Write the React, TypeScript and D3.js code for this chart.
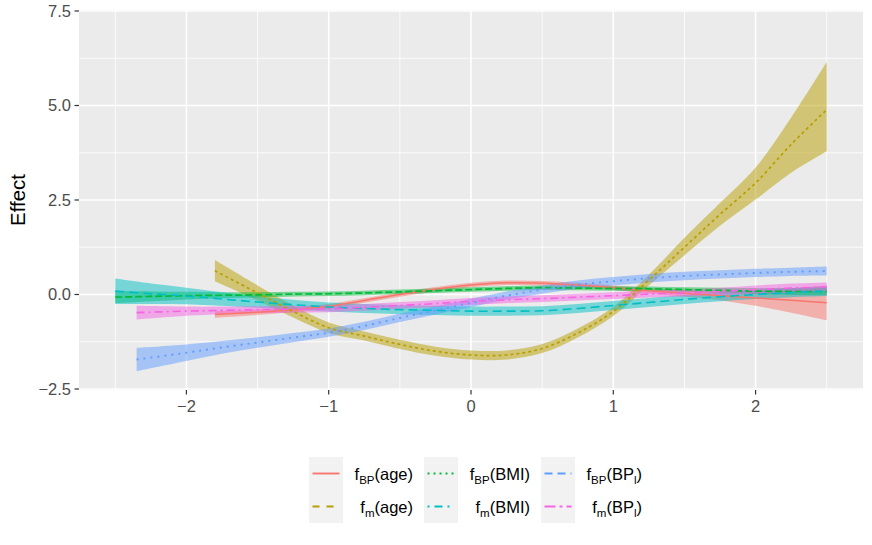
import * as d3 from "d3";

// x positions (standardised covariate) per covariate
const xAge = [-1.8, -1.5, -1.25, -1, -0.75, -0.5, -0.25, 0, 0.25, 0.5, 0.75, 1, 1.25, 1.5, 1.75, 2, 2.25, 2.5];
const xBMI = [-2.5, -2.25, -2, -1.75, -1.5, -1.25, -1, -0.75, -0.5, -0.25, 0, 0.25, 0.5, 0.75, 1, 1.25, 1.5, 1.75, 2, 2.25, 2.5];
const xBPl = [-2.35, -2, -1.75, -1.5, -1.25, -1, -0.75, -0.5, -0.25, 0, 0.25, 0.5, 0.75, 1, 1.25, 1.5, 1.75, 2, 2.25, 2.5];

// fBP(age)
const bpAgeFit = [-0.53, -0.47, -0.4, -0.31, -0.16, 0.0, 0.14, 0.25, 0.31, 0.3, 0.25, 0.18, 0.1, 0.03, -0.03, -0.09, -0.15, -0.22];
const bpAgeLo = [-0.62, -0.54, -0.46, -0.37, -0.22, -0.06, 0.08, 0.19, 0.25, 0.24, 0.19, 0.12, 0.03, -0.06, -0.15, -0.3, -0.48, -0.68];
const bpAgeHi = [-0.44, -0.4, -0.34, -0.25, -0.1, 0.06, 0.2, 0.31, 0.37, 0.36, 0.31, 0.24, 0.17, 0.12, 0.1, 0.1, 0.17, 0.24];

// fm(age)
const mAgeFit = [0.63, 0.04, -0.45, -0.88, -1.1, -1.32, -1.5, -1.6, -1.6, -1.43, -1.02, -0.45, 0.38, 1.25, 2.12, 2.95, 3.97, 4.89];
const mAgeLo = [0.35, -0.16, -0.61, -1.02, -1.22, -1.44, -1.62, -1.72, -1.72, -1.55, -1.14, -0.57, 0.24, 1.04, 1.82, 2.51, 3.22, 3.79];
const mAgeHi = [0.91, 0.24, -0.29, -0.74, -0.98, -1.2, -1.38, -1.48, -1.48, -1.31, -0.9, -0.33, 0.52, 1.5, 2.42, 3.36, 4.68, 6.15];

// fBP(BMI)
const bpBmiFit = [-0.07, -0.05, -0.03, -0.02, -0.01, 0.01, 0.02, 0.04, 0.07, 0.1, 0.13, 0.16, 0.18, 0.17, 0.16, 0.15, 0.13, 0.11, 0.09, 0.08, 0.08];
const bpBmiLo = [-0.23, -0.18, -0.13, -0.1, -0.08, -0.05, -0.04, -0.02, 0.01, 0.04, 0.07, 0.1, 0.12, 0.11, 0.1, 0.09, 0.07, 0.04, 0.01, -0.01, -0.02];
const bpBmiHi = [0.09, 0.08, 0.07, 0.06, 0.06, 0.07, 0.08, 0.1, 0.13, 0.16, 0.19, 0.22, 0.24, 0.23, 0.22, 0.21, 0.19, 0.18, 0.17, 0.17, 0.18];

// fm(BMI)
const mBmiFit = [0.09, 0.02, -0.04, -0.12, -0.2, -0.27, -0.33, -0.37, -0.4, -0.42, -0.44, -0.44, -0.43, -0.37, -0.29, -0.21, -0.13, -0.06, 0.0, 0.05, 0.09];
const mBmiLo = [-0.25, -0.25, -0.26, -0.3, -0.35, -0.4, -0.45, -0.49, -0.52, -0.54, -0.56, -0.56, -0.55, -0.49, -0.41, -0.33, -0.25, -0.18, -0.12, -0.07, -0.04];
const mBmiHi = [0.42, 0.29, 0.18, 0.06, -0.05, -0.14, -0.21, -0.25, -0.28, -0.3, -0.32, -0.32, -0.31, -0.25, -0.17, -0.09, -0.01, 0.06, 0.12, 0.17, 0.22];

// fBP(BPl)
const bpBplFit = [-1.72, -1.54, -1.4, -1.27, -1.14, -1.01, -0.83, -0.62, -0.42, -0.22, -0.03, 0.13, 0.26, 0.35, 0.43, 0.49, 0.53, 0.57, 0.6, 0.62];
const bpBplLo = [-2.03, -1.76, -1.57, -1.41, -1.26, -1.12, -0.94, -0.73, -0.53, -0.33, -0.14, 0.02, 0.15, 0.24, 0.32, 0.38, 0.42, 0.46, 0.49, 0.5];
const bpBplHi = [-1.41, -1.32, -1.23, -1.13, -1.02, -0.9, -0.72, -0.51, -0.31, -0.11, 0.08, 0.24, 0.37, 0.46, 0.54, 0.6, 0.64, 0.68, 0.71, 0.74];

// fm(BPl)
const mBplFit = [-0.48, -0.44, -0.42, -0.4, -0.39, -0.38, -0.34, -0.29, -0.24, -0.18, -0.14, -0.11, -0.07, -0.03, 0.01, 0.04, 0.08, 0.13, 0.17, 0.2];
const mBplLo = [-0.66, -0.56, -0.52, -0.49, -0.48, -0.47, -0.43, -0.38, -0.33, -0.27, -0.23, -0.2, -0.16, -0.12, -0.08, -0.05, -0.02, 0.02, 0.05, 0.08];
const mBplHi = [-0.3, -0.32, -0.32, -0.31, -0.3, -0.29, -0.25, -0.2, -0.15, -0.09, -0.05, -0.02, 0.02, 0.06, 0.1, 0.13, 0.18, 0.24, 0.29, 0.32];

const yTicks = [-2.5, 0, 2.5, 5, 7.5];
const yMinor = [-1.25, 1.25, 3.75, 6.25];
const xTicks = [-2, -1, 0, 1, 2];
const xMinor = [-2.5, -1.5, -0.5, 0.5, 1.5, 2.5];

type Series = {
  sub: string; // subscript of f
  arg: string; // argument name
  argSub?: string;
  color: string;
  x: number[];
  fit: number[];
  lo: number[];
  hi: number[];
  dash: string; // dash used in the panel
  keyDash: string; // dash used in the legend key
  width: number;
};

const SERIES: Series[] = [
  { sub: "BP", arg: "age", color: "#F8766D", x: xAge, fit: bpAgeFit, lo: bpAgeLo, hi: bpAgeHi, dash: "none", keyDash: "none", width: 1.5 },
  { sub: "m", arg: "age", color: "#B79F00", x: xAge, fit: mAgeFit, lo: mAgeLo, hi: mAgeHi, dash: "3,3", keyDash: "7,7", width: 1.7 },
  { sub: "BP", arg: "BMI", color: "#00BA38", x: xBMI, fit: bpBmiFit, lo: bpBmiLo, hi: bpBmiHi, dash: "7,3", keyDash: "2,4", width: 1.7 },
  { sub: "m", arg: "BMI", color: "#00BFC4", x: xBMI, fit: mBmiFit, lo: mBmiLo, hi: mBmiHi, dash: "9,5", keyDash: "2,5,8,5", width: 1.6 },
  { sub: "BP", arg: "BP", argSub: "l", color: "#619CFF", x: xBPl, fit: bpBplFit, lo: bpBplLo, hi: bpBplHi, dash: "2,5", keyDash: "8,5", width: 1.9 },
  { sub: "m", arg: "BP", argSub: "l", color: "#F564E3", x: xBPl, fit: mBplFit, lo: mBplLo, hi: mBplHi, dash: "8,4,2,4", keyDash: "11,4,3,4", width: 1.6 },
];

const W = 872;
const H = 545;
const PANEL = { left: 79, right: 863, top: 10, bottom: 390 };
const FONT = "'Liberation Sans', Arial, Helvetica, sans-serif";

function Label({ s, x, y }: { s: Series; x: number; y: number }) {
  return (
    <text x={x} y={y} textAnchor="end" fontSize={16.5} fill="#000" fontFamily={FONT}>
      <tspan>f</tspan>
      <tspan fontSize={11.5} dy={4}>{s.sub}</tspan>
      <tspan dy={-4}>({s.arg}</tspan>
      {s.argSub ? (
        <>
          <tspan fontSize={11.5} dy={4}>{s.argSub}</tspan>
          <tspan dy={-4}>)</tspan>
        </>
      ) : (
        <tspan>)</tspan>
      )}
    </text>
  );
}

export default function App() {
  const xScale = d3.scaleLinear().domain([-2.755, 2.755]).range([PANEL.left, PANEL.right]);
  const yScale = d3.scaleLinear().domain([-2.5, 7.5]).range([389, 11]);
  const curve = d3.curveCatmullRom.alpha(0.5);

  const area = (s: Series) =>
    d3
      .area<number>()
      .x((_, i) => xScale(s.x[i]))
      .y0((_, i) => yScale(s.lo[i]))
      .y1((_, i) => yScale(s.hi[i]))
      .curve(curve)(s.fit) ?? "";

  const line = (s: Series) =>
    d3
      .line<number>()
      .x((_, i) => xScale(s.x[i]))
      .y((d) => yScale(d))
      .curve(curve)(s.fit) ?? "";

  // legend: 3 columns x 2 rows, filled by column
  const keyX = [309, 424, 541];
  const labelRight = [413, 530, 642];
  const rowTop = [457, 490];
  const keyW = 34;
  const keyH = 33;

  return (
    <svg width={W} height={H} style={{ position: "absolute", left: 0, top: 0, background: "#fff" }}>
      <rect x={0} y={0} width={W} height={H} fill="#fff" />
      <rect
        x={PANEL.left}
        y={PANEL.top}
        width={PANEL.right - PANEL.left}
        height={PANEL.bottom - PANEL.top}
        fill="#EBEBEB"
      />
      {/* minor grid */}
      {xMinor.map((v) => (
        <line key={`xm${v}`} x1={xScale(v)} x2={xScale(v)} y1={PANEL.top} y2={PANEL.bottom} stroke="#fff" strokeWidth={0.8} />
      ))}
      {yMinor.map((v) => (
        <line key={`ym${v}`} x1={PANEL.left} x2={PANEL.right} y1={yScale(v)} y2={yScale(v)} stroke="#fff" strokeWidth={0.8} />
      ))}
      {/* major grid */}
      {xTicks.map((v) => (
        <line key={`xg${v}`} x1={xScale(v)} x2={xScale(v)} y1={PANEL.top} y2={PANEL.bottom} stroke="#fff" strokeWidth={1.6} />
      ))}
      {yTicks.map((v) => (
        <line key={`yg${v}`} x1={PANEL.left} x2={PANEL.right} y1={yScale(v)} y2={yScale(v)} stroke="#fff" strokeWidth={1.6} />
      ))}

      {/* ribbons */}
      {SERIES.map((s, i) => (
        <path key={`r${i}`} d={area(s)} fill={s.color} fillOpacity={0.5} stroke="none" />
      ))}
      {/* fitted lines */}
      {SERIES.map((s, i) => (
        <path
          key={`l${i}`}
          d={line(s)}
          fill="none"
          stroke={s.color}
          strokeWidth={s.width}
          strokeDasharray={s.dash}
        />
      ))}

      {/* y axis */}
      {yTicks.map((v) => (
        <g key={`yt${v}`}>
          <line x1={PANEL.left - 4.5} x2={PANEL.left} y1={yScale(v)} y2={yScale(v)} stroke="#333" strokeWidth={1.2} />
          <text
            x={PANEL.left - 8}
            y={yScale(v)}
            dy="0.36em"
            textAnchor="end"
            fontSize={16.5}
            fill="#4D4D4D"
            fontFamily={FONT}
          >
            {d3.format(".1f")(v).replace("-", "\u2212")}
          </text>
        </g>
      ))}
      {/* x axis */}
      {xTicks.map((v) => (
        <g key={`xt${v}`}>
          <line x1={xScale(v)} x2={xScale(v)} y1={PANEL.bottom} y2={PANEL.bottom + 4.5} stroke="#333" strokeWidth={1.2} />
          <text x={xScale(v)} y={412} textAnchor="middle" fontSize={16.5} fill="#4D4D4D" fontFamily={FONT}>
            {String(v).replace("-", "\u2212")}
          </text>
        </g>
      ))}
      <text
        transform={`translate(24.5,${(PANEL.top + PANEL.bottom) / 2}) rotate(-90)`}
        textAnchor="middle"
        fontSize={20.5}
        fill="#000"
        fontFamily={FONT}
      >
        Effect
      </text>

      {/* legend */}
      {SERIES.map((s, i) => {
        const col = Math.floor(i / 2);
        const row = i % 2;
        const kx = keyX[col];
        const ky = rowTop[row];
        const cy = ky + keyH / 2;
        return (
          <g key={`lg${i}`}>
            <rect x={kx} y={ky} width={keyW} height={keyH} fill="#F2F2F2" />
            <line
              x1={kx + 3.5}
              x2={kx + keyW - 3.5}
              y1={cy}
              y2={cy}
              stroke={s.color}
              strokeWidth={1.9}
              strokeDasharray={s.keyDash}
            />
            <Label s={s} x={labelRight[col]} y={cy + 6} />
          </g>
        );
      })}
    </svg>
  );
}
